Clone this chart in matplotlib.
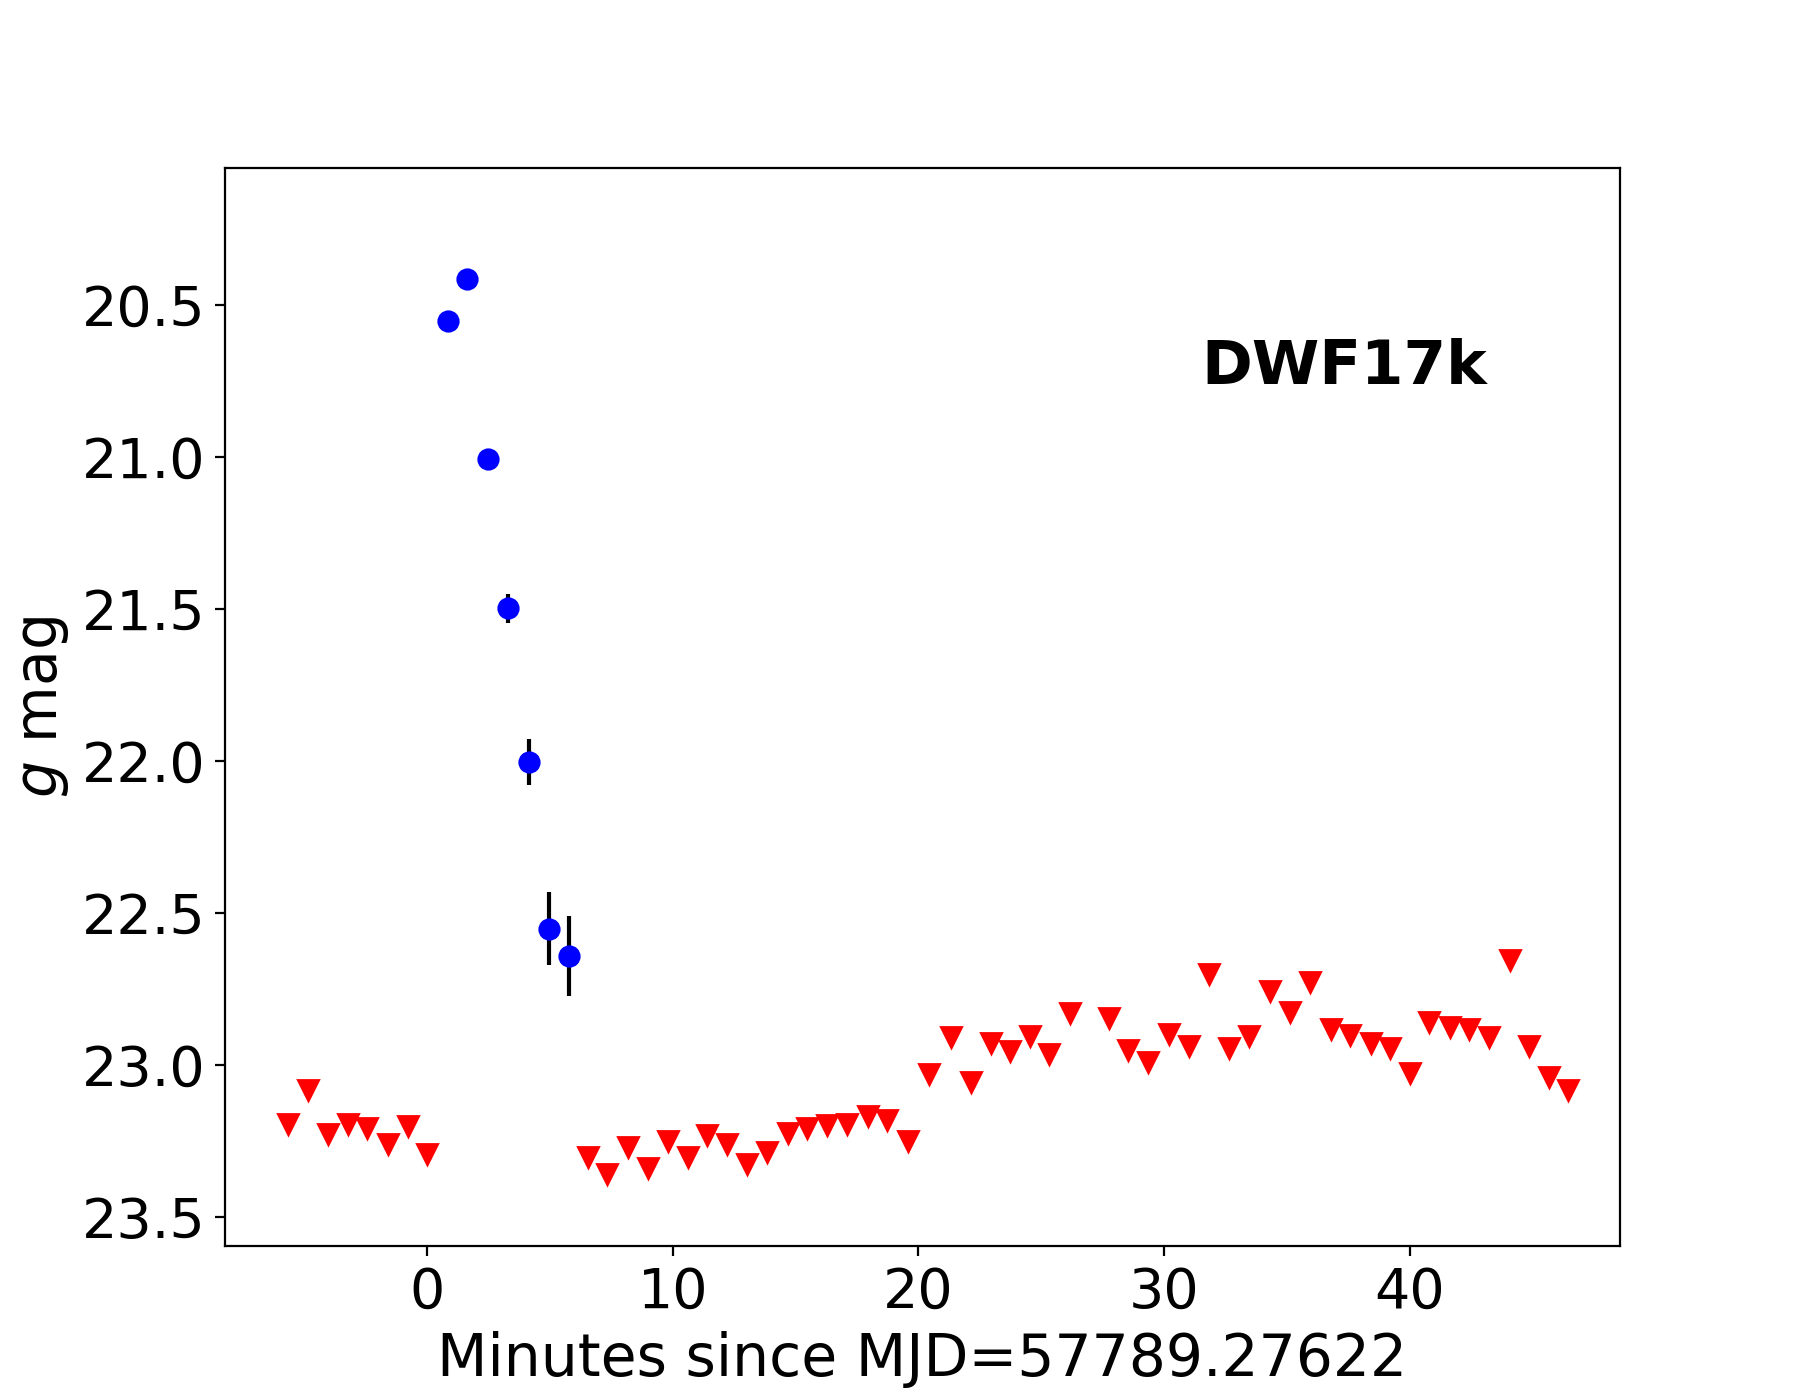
import matplotlib
matplotlib.use('Agg')
import matplotlib.pyplot as plt

# detections (minutes since MJD=57789.27622, g mag, error)
det_t = [0.83, 1.64, 2.46, 3.31, 4.13, 4.94, 5.76]
det_mag = [20.552, 20.415, 21.007, 21.498, 22.004, 22.551, 22.642]
det_err = [0.005, 0.005, 0.01, 0.048, 0.075, 0.12, 0.131]

# upper limits
lim_t = [-5.65, -4.86, -4.02, -3.22, -2.43, -1.59, -0.79, 0.0,
         6.54, 7.34, 8.18, 8.97, 9.81, 10.61, 11.40, 12.20, 13.04, 13.83,
         14.67, 15.47, 16.26, 17.10, 17.94, 18.74, 19.58, 20.42, 21.31,
         22.15, 22.94, 23.74, 24.53, 25.33, 26.17, 27.76, 28.55, 29.35,
         30.19, 31.03, 31.82, 32.66, 33.46, 34.30, 35.14, 35.93, 36.78,
         37.57, 38.41, 39.21, 40.00, 40.79, 41.64, 42.43, 43.22, 44.07,
         44.86, 45.65, 46.45]
lim_mag = [23.193, 23.083, 23.226, 23.193, 23.208, 23.258, 23.200, 23.291,
           23.302, 23.359, 23.268, 23.340, 23.249, 23.302, 23.230, 23.258,
           23.325, 23.287, 23.223, 23.208, 23.196, 23.193, 23.166, 23.181,
           23.249, 23.030, 22.909, 23.057, 22.928, 22.955, 22.905, 22.962,
           22.830, 22.845, 22.951, 22.989, 22.898, 22.936, 22.702, 22.943,
           22.905, 22.758, 22.826, 22.728, 22.883, 22.902, 22.928, 22.943,
           23.026, 22.860, 22.875, 22.883, 22.909, 22.656, 22.936, 23.038,
           23.083]

fig = plt.figure(figsize=(9, 7), dpi=200)
ax = fig.add_subplot(111)

ax.plot(lim_t, lim_mag, 'rv', markersize=7)
ax.errorbar(det_t, det_mag, yerr=det_err, fmt='o', color='b', ecolor='k',
            markersize=7, elinewidth=1.5)

ax.set_xlim(-8.23, 48.56)
ax.set_ylim(23.595, 20.05)
ax.set_xlabel('Minutes since MJD=57789.27622', fontsize=21)
ax.set_ylabel('$g$ mag', fontsize=21)
ax.tick_params(labelsize=20)
ax.text(0.7, 0.8, 'DWF17k', transform=ax.transAxes, fontsize=22,
        fontweight='bold')

fig.savefig('out.png', dpi=200)
